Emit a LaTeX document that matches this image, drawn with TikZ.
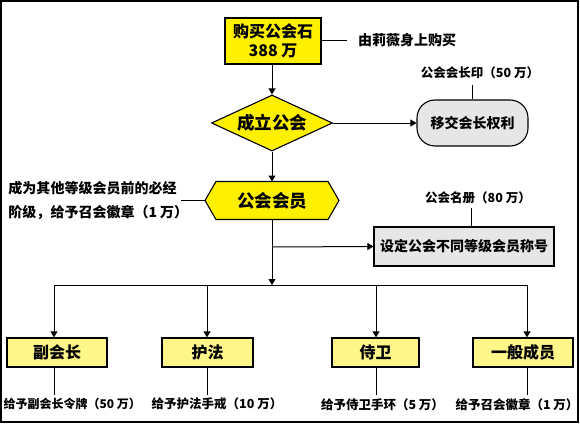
\documentclass[tikz,border=0pt]{standalone}
\usepackage{fontspec}
\setmainfont{Noto Sans CJK SC}
\usetikzlibrary{shapes.geometric,arrows.meta,backgrounds}
\definecolor{yel}{HTML}{FFF000}
\definecolor{lyel}{HTML}{FFF68A}
\definecolor{gry}{HTML}{E6E6E6}
\begin{document}
\begin{tikzpicture}[x=1pt,y=-1pt,
  line width=1pt,
  arr/.style={-{Triangle[width=7pt,length=6pt]}},
  bigbox/.style={draw,line width=1.3pt,fill=yel,inner sep=0pt,align=center,font=\fontsize{16}{19}\selectfont\bfseries},
  levelbox/.style={draw,line width=1.3pt,fill=lyel,inner sep=0pt,minimum height=29pt,font=\fontsize{16}{18}\selectfont\bfseries},
  greybox/.style={draw,line width=1.1pt,fill=gry,inner sep=0pt,font=\fontsize{14}{16}\selectfont\bfseries},
  note/.style={inner sep=0pt,font=\fontsize{12.5}{14}\selectfont\bfseries},
]
\useasboundingbox (0,0) rectangle (580,425);
\draw[line width=2pt] (1,1) rectangle (577.5,422);

% top
\node[bigbox,minimum width=96pt,minimum height=46pt] (buy) at (273,41) {购买公会石\\388 万};
\coordinate (buyend) at (347,41);
\node[note,font=\fontsize{14}{16}\selectfont\bfseries] (src) at (407,40) {由莉薇身上购买};
\draw (buy.east) -- (buyend);

% diamond
\node[diamond,draw,line width=1.1pt,fill=yel,inner sep=0pt,aspect=2.16,minimum width=121pt,minimum height=56pt,font=\fontsize{17.5}{19}\selectfont\bfseries] (found) at (272,123) {成立公会};
\draw[arr] (buy.south -| found.north) -- (found.north);

% rounded grey
\node[greybox,rounded corners=18pt,minimum width=111pt,minimum height=46pt] (hand) at (472.5,123) {移交会长权利};
\draw[arr] (found.east) -- (hand.west);
\node[note] (seal) at (480,73) {公会会长印（50 万）};
\coordinate (sealend) at (472.5,85);
\draw (sealend) -- (hand.north);

% hexagon
\node[inner sep=0pt,minimum width=133pt,minimum height=37pt,font=\fontsize{17.5}{19}\selectfont\bfseries] (mem) at (272,200.5) {公会会员};
\begin{scope}[on background layer]
\draw[line width=1.1pt,fill=yel] ([xshift=11pt]mem.north west) -- ([xshift=-11pt]mem.north east) -- (mem.east) -- ([xshift=-11pt]mem.south east) -- ([xshift=11pt]mem.south west) -- (mem.west) -- cycle;
\end{scope}
\draw[arr] (found.south) -- (mem.north);

\node[note,anchor=west,font=\fontsize{14}{16}\selectfont\bfseries] (pre1) at (8,188) {成为其他等级会员前的必经};
\node[note,anchor=west,font=\fontsize{14}{16}\selectfont\bfseries] (pre2) at (8,213) {阶级，给予召会徽章（1 万）};
\coordinate (preend) at (181,200.5);
\draw (preend) -- (mem.west);

% name list
\node[greybox,minimum width=180pt,minimum height=39pt] (names) at (464,246.5) {设定公会不同等级会员称号};
\node[note] (book) at (478,198) {公会名册（80 万）};
\coordinate (bookend) at (471,208);
\draw (bookend) -- (bookend |- names.north);

% trunk
\coordinate (split) at (272,285);
\coordinate (mid) at (272,247);
\draw[arr] (mem.south) -- (split);
\draw[arr] (mid) -- (names.west);

% level boxes
\node[levelbox,minimum width=100pt] (vp) at (57,352.5) {副会长};
\node[levelbox,minimum width=91pt] (guard) at (207.5,352.5) {护法};
\node[levelbox,minimum width=87pt] (page) at (375.5,352.5) {侍卫};
\node[levelbox,minimum width=100pt] (mbr) at (523,352.5) {一般成员};

\coordinate (d1) at (54,285);
\coordinate (d2) at (207,285);
\coordinate (d3) at (376,285);
\coordinate (d4) at (527,285);
\draw (d1) -- (d4);
\draw[arr] (d1) -- (d1 |- vp.north);
\draw[arr] (d2) -- (d2 |- guard.north);
\draw[arr] (d3) -- (d3 |- page.north);
\draw[arr] (d4) -- (d4 |- mbr.north);

% gifts
\node[note,anchor=west,font=\fontsize{12}{14}\selectfont\bfseries] (g1) at (3,404) {给予副会长令牌（50 万）};
\node[note] (g2) at (217,404) {给予护法手戒（10 万）};
\node[note] (g3) at (382.5,405) {给予侍卫手环（5 万）};
\node[note] (g4) at (517,405) {给予召会徽章（1 万）};
\coordinate (e1) at (54,395);
\coordinate (e2) at (207,395);
\coordinate (e3) at (376,395);
\coordinate (e4) at (527,395);
\draw (d1 |- vp.south) -- (e1);
\draw (d2 |- guard.south) -- (e2);
\draw (d3 |- page.south) -- (e3);
\draw (d4 |- mbr.south) -- (e4);
\end{tikzpicture}
\end{document}
